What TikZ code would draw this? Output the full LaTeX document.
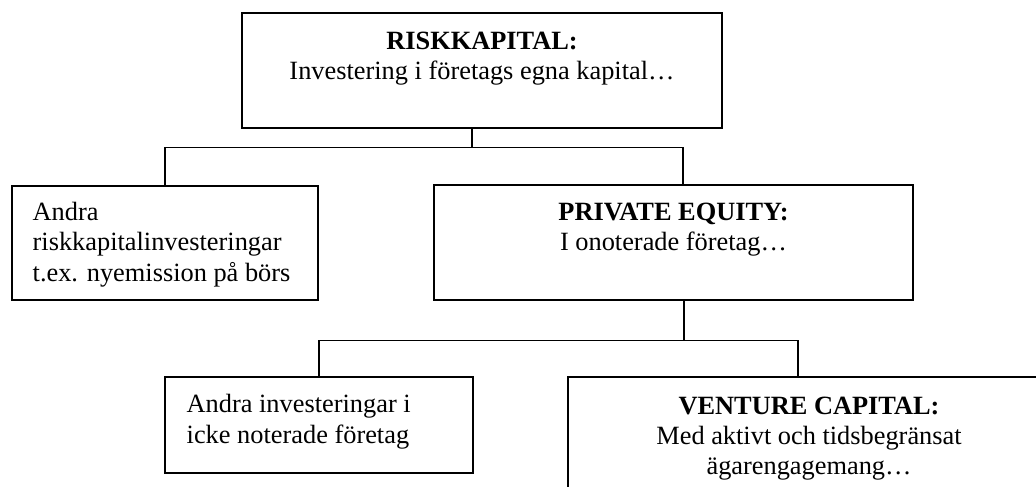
\documentclass[tikz,border=0pt]{standalone}
\usepackage{fontspec}
\setmainfont{Liberation Serif}
\usetikzlibrary{positioning}

\begin{document}
\begin{tikzpicture}[
  orgbox/.style={draw, line width=0.75pt, inner sep=0pt},
  boxtext/.style={inner sep=0pt, font=\fontsize{15}{17.3}\selectfont},
  link/.style={line width=0.6pt}]
  \path[use as bounding box, fill=white] (0,0) rectangle (20.72,9.72);
  \clip (0,0) rectangle (20.72,9.72);
  \node[orgbox, minimum width=9.6cm, minimum height=2.3cm] (risk) at (9.64,8.31) {};
  \node[orgbox, minimum width=6.12cm, minimum height=2.28cm] (andra1) at (3.30,4.86) {};
  \node[orgbox, minimum width=9.58cm, minimum height=2.3cm] (pe) at (13.47,4.87) {};
  \node[orgbox, minimum width=6.16cm, minimum height=1.92cm] (andra2) at (6.38,1.22) {};
  \node[orgbox, minimum width=9.64cm, minimum height=2.3cm] (vc) at (16.18,1.03) {};
  \node[boxtext, align=center, below=0.38cm of risk.north] (risktext) {\textbf{RISKKAPITAL:}\\Investering i företags egna kapital…};
  \node[boxtext, align=left, below right=0.33cm and 0.42cm of andra1.north west] (andra1text) {Andra\\riskkapitalinvesteringar\\t.ex. nyemission på börs};
  \node[boxtext, align=center, below=0.36cm of pe.north] (petext) {\textbf{PRIVATE EQUITY:}\\I onoterade företag…};
  \node[boxtext, align=left, below right=0.36cm and 0.44cm of andra2.north west] (andra2text) {Andra investeringar i\\icke noterade företag};
  \node[boxtext, align=center, below=0.4cm of vc.north] (vctext) {\textbf{VENTURE CAPITAL:}\\Med aktivt och tidsbegränsat\\ägarengagemang…};
  \draw[link] ([xshift=-0.2cm]risk.south) -- ++(0,-0.38) coordinate (split1);
  \draw[link] (andra1.north) |- (split1) -| ([xshift=0.19cm]pe.north);
  \draw[link] ([xshift=0.21cm]pe.south) -- ++(0,-0.79) coordinate (split2);
  \draw[link] (andra2.north) |- (split2) -| ([xshift=-0.22cm]vc.north);
\end{tikzpicture}
\end{document}
